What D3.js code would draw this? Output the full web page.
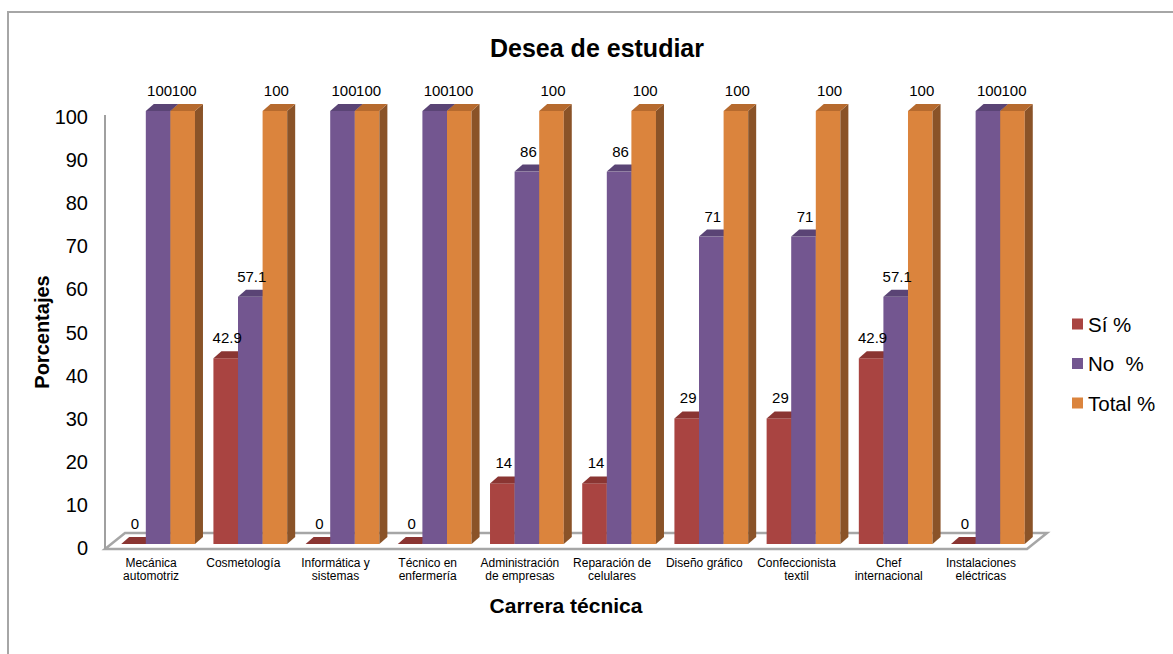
<!DOCTYPE html>
<html><head><meta charset="utf-8">
<script src="https://cdn.jsdelivr.net/npm/d3@7"></script>
<style>body{margin:0;background:#fff}svg{display:block;font-family:"Liberation Sans",Arial,sans-serif}</style>
</head><body><svg id="c" width="1173" height="654"></svg>
<script>
const categories = [["Mecánica","automotriz"],["Cosmetología"],["Informática y","sistemas"],["Técnico en","enfermería"],["Administración","de empresas"],["Reparación de","celulares"],["Diseño gráfico"],["Confeccionista","textil"],["Chef","internacional"],["Instalaciones","eléctricas"]];
const seriesNames = ["Sí %","No  %","Total %"];
const siValues = [0,42.9,0,0,14,14,29,29,42.9,0];
const noValues = [100,57.1,100,100,86,86,71,71,57.1,100];
const totalValues = [100,100,100,100,100,100,100,100,100,100];
const yTicks = [0,10,20,30,40,50,60,70,80,90,100];

const svg = d3.select("#c");
const keys = categories.map(c => c.join(" "));
const series = [siValues, noValues, totalValues];
const colors = [
  {front:"#A94441", top:"#8A3532", side:"#7A2E2B"},
  {front:"#735690", top:"#5A4475", side:"#4E3A66"},
  {front:"#DB843D", top:"#B66A2E", side:"#8A5328"}
];
const dx = 8, dy = 7;

// outer border
svg.append("rect").attr("x",8).attr("y",12).attr("width",1300).attr("height",800)
  .attr("fill","none").attr("stroke","#a6a6a6").attr("stroke-width",2);

const x = d3.scaleBand().domain(keys).range([105,1027]).paddingInner(0.2).paddingOuter(0.1);
const xs = d3.scaleBand().domain([0,1,2]).range([0, x.bandwidth()]);
const yAxisScale = d3.scaleLinear().domain([0,100]).range([548,117]);
const yBar = d3.scaleLinear().domain([0,100]).range([544,111]);

// title
svg.append("text").attr("x",597).attr("y",57).attr("text-anchor","middle")
  .attr("font-size",25).attr("font-weight","bold").text("Desea de estudiar");

// floor
svg.append("polygon").attr("points",[[105,549],[1027,549],[1047,533],[125,533]].map(p=>p.join(",")).join(" "))
  .attr("fill","#fff").attr("stroke","#a6a6a6").attr("stroke-width",2.5);
// y axis line
svg.append("line").attr("x1",105).attr("x2",105).attr("y1",115).attr("y2",549)
  .attr("stroke","#a0a0a0").attr("stroke-width",2);

// y ticks
svg.append("g").selectAll("text").data(yTicks).join("text")
  .attr("x",88).attr("y",d=>yAxisScale(d)+7).attr("text-anchor","end")
  .attr("font-size",20).attr("fill","#000").text(d=>d);

// bars
const bars = svg.append("g");
keys.forEach((k,i) => {
  series.forEach((vals,s) => {
    const v = vals[i];
    const x0 = x(k) + xs(s) + 7, w = xs.bandwidth();
    const yb = yBar(0), yt = yBar(v);
    const c = colors[s];
    const g = bars.append("g");
    if (v > 0) {
      g.append("rect").attr("x",x0).attr("y",yt).attr("width",w).attr("height",yb-yt).attr("fill",c.front);
      g.append("polygon").attr("points",[[x0+w,yt],[x0+w+dx,yt-dy],[x0+w+dx,yb-dy],[x0+w,yb]].map(p=>p.join(",")).join(" ")).attr("fill",c.side);
    }
    g.append("polygon").attr("points",[[x0,yt],[x0+w,yt],[x0+w+dx,yt-dy],[x0+dx,yt-dy]].map(p=>p.join(",")).join(" ")).attr("fill",c.top);
  });
});
// value labels
const labels = svg.append("g");
keys.forEach((k,i) => {
  series.forEach((vals,s) => {
    const v = vals[i];
    labels.append("text").attr("x", x(k)+xs(s)+7+xs.bandwidth()/2+1.5)
      .attr("y", yBar(v)-15).attr("text-anchor","middle").attr("font-size",15).text(v);
  });
});

// x labels
const xl = svg.append("g");
categories.forEach((c,i) => {
  const cx = x(keys[i]) + x.bandwidth()/2;
  const t = xl.append("text").attr("x", cx).attr("y",567)
    .attr("text-anchor","middle").attr("font-size",12);
  c.forEach((line,j) => t.append("tspan").attr("x", cx).attr("dy", j===0?0:13).text(line));
});

// axis titles
svg.append("text").attr("transform","translate(49,332) rotate(-90)").attr("text-anchor","middle")
  .attr("font-size",20).attr("font-weight","bold").text("Porcentajes");
svg.append("text").attr("x",566).attr("y",613).attr("text-anchor","middle")
  .attr("font-size",21).attr("font-weight","bold").text("Carrera técnica");

// legend
const leg = svg.append("g");
seriesNames.forEach((n,s) => {
  const cy = 324 + s*39.5;
  leg.append("rect").attr("x",1072).attr("y",cy-5.5).attr("width",11).attr("height",11).attr("fill",colors[s].front);
  leg.append("text").attr("x",1088).attr("y",cy+7.5).attr("font-size",20.5).attr("xml:space","preserve")
    .style("white-space","pre").text(n);
});
</script></body></html>
